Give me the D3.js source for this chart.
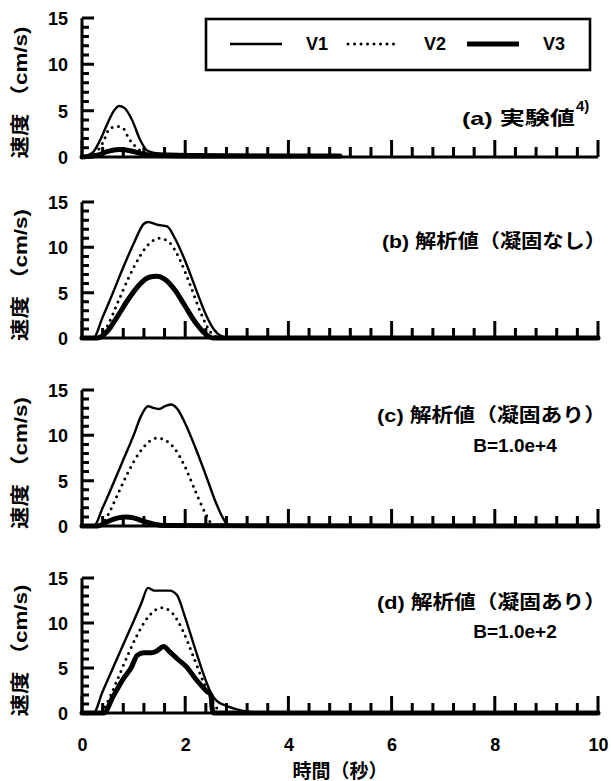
<!DOCTYPE html>
<html>
<head>
<meta charset="utf-8">
<script src="https://cdn.jsdelivr.net/npm/d3@7"></script>
<style>
  body { margin: 0; background: #fff; }
  text { font-family: "Liberation Sans", Arial, "Noto Sans CJK JP", sans-serif; font-weight: bold; fill: #000; }
</style>
</head>
<body>
<svg id="chart" width="611" height="781"></svg>
<script>
// ---- data (time in s, speed in cm/s) ----
const seriesNames = ["V1", "V2", "V3"];
const xTickLabels = [0, 2, 4, 6, 8, 10];
const yTickLabels = [0, 5, 10, 15];

// (a) experiment (only to 5 s)
const a_t1 = [0, 0.21, 0.35, 0.5, 0.62, 0.72, 0.82, 0.97, 1.13, 1.26, 1.4, 1.7, 2.2, 3.0, 4.0, 5.0];
const a_v1 = [0, 0.5, 1.8, 3.7, 5.0, 5.5, 5.3, 4.0, 1.8, 0.7, 0.45, 0.35, 0.3, 0.25, 0.2, 0.2];
const a_t2 = [0.25, 0.4, 0.54, 0.7, 0.8, 0.89, 0.97, 1.07, 1.18, 1.3];
const a_v2 = [0.3, 1.5, 3.1, 3.3, 3.1, 2.2, 1.5, 1.0, 0.4, 0.1];
const a_t3 = [0, 0.3, 0.5, 0.72, 0.95, 1.2, 1.5, 2.0, 3.0, 5.0];
const a_v3 = [0, 0.2, 0.6, 0.8, 0.65, 0.3, 0.15, 0.1, 0.1, 0.1];

// (b) analysis, no solidification
const b_t1 = [0, 0.22, 0.4, 0.6, 0.8, 1.0, 1.2, 1.28, 1.45, 1.65, 1.8, 2.0, 2.2, 2.4, 2.55, 2.7, 2.85, 10];
const b_v1 = [0, 0, 2.3, 5.0, 7.8, 10.4, 12.6, 12.8, 12.5, 12.3, 11.0, 8.5, 5.5, 2.6, 1.0, 0.2, 0, 0];
const b_t2 = [0, 0.35, 0.5, 0.7, 0.9, 1.1, 1.3, 1.5, 1.7, 1.9, 2.1, 2.3, 2.5, 2.7, 10];
const b_v2 = [0, 0, 1.4, 4.0, 6.6, 8.8, 10.4, 11.0, 10.5, 8.6, 5.8, 2.8, 0.6, 0, 0];
const b_t3 = [0, 0.3, 0.5, 0.7, 0.9, 1.1, 1.3, 1.45, 1.6, 1.8, 2.0, 2.2, 2.4, 2.55, 10];
const b_v3 = [0, 0, 0.8, 2.5, 4.3, 5.8, 6.7, 6.8, 6.5, 5.3, 3.5, 1.7, 0.4, 0, 0];

// (c) analysis, solidification B=1.0e+4
const c_t1 = [0, 0.23, 0.4, 0.6, 0.8, 1.0, 1.15, 1.28, 1.4, 1.5, 1.6, 1.72, 1.85, 2.0, 2.2, 2.4, 2.6, 2.75, 2.85, 10];
const c_v1 = [0, 0, 2.0, 4.6, 7.3, 10.0, 12.2, 13.2, 13.0, 12.9, 13.2, 13.4, 12.9, 11.3, 8.6, 5.6, 2.5, 0.7, 0, 0];
const c_t2 = [0, 0.35, 0.5, 0.7, 0.9, 1.1, 1.3, 1.45, 1.6, 1.8, 2.0, 2.2, 2.4, 2.52, 2.6, 10];
const c_v2 = [0, 0, 1.2, 3.6, 6.0, 8.0, 9.3, 9.7, 9.5, 8.5, 6.5, 3.8, 1.3, 0.2, 0, 0];
const c_t3 = [0, 0.3, 0.5, 0.7, 0.85, 1.0, 1.2, 1.4, 1.6, 10];
const c_v3 = [0, 0, 0.5, 0.9, 1.0, 0.9, 0.5, 0.2, 0.05, 0];

// (d) analysis, solidification B=1.0e+2
const d_t1 = [0, 0.22, 0.4, 0.6, 0.8, 1.0, 1.15, 1.28, 1.4, 1.55, 1.7, 1.84, 2.0, 2.2, 2.4, 2.5, 2.6, 2.8, 3.0, 3.3, 3.6, 10];
const d_v1 = [0, 0, 2.4, 5.0, 7.6, 10.2, 12.2, 13.9, 13.6, 13.6, 13.6, 13.1, 10.6, 7.0, 3.6, 2.2, 1.4, 0.8, 0.4, 0.1, 0, 0];
const d_t2 = [0, 0.35, 0.5, 0.7, 0.9, 1.1, 1.3, 1.55, 1.75, 1.95, 2.15, 2.35, 2.5, 2.62, 2.75, 10];
const d_v2 = [0, 0, 1.3, 3.9, 6.6, 9.0, 10.8, 11.7, 11.1, 9.2, 6.4, 3.5, 1.6, 0.5, 0, 0];
const d_t3 = [0, 0.42, 0.6, 0.8, 0.95, 1.07, 1.2, 1.35, 1.45, 1.58, 1.7, 1.85, 2.03, 2.2, 2.42, 2.5, 2.52, 2.55, 10];
const d_v3 = [0, 0, 1.8, 3.8, 5.0, 6.4, 6.7, 6.7, 6.9, 7.4, 6.8, 6.0, 5.1, 3.8, 2.4, 2.0, 0.6, 0, 0];

const panelLabels = ["(a) 実験値", "(b) 解析値（凝固なし）", "(c) 解析値（凝固あり）", "(d) 解析値（凝固あり）"];
const panelSubLabels = ["", "", "B=1.0e+4", "B=1.0e+2"];

const panels = [
  { ts: [a_t1, a_t2, a_t3], vs: [a_v1, a_v2, a_v3], top: 18, bottom: 157 },
  { ts: [b_t1, b_t2, b_t3], vs: [b_v1, b_v2, b_v3], top: 202, bottom: 338 },
  { ts: [c_t1, c_t2, c_t3], vs: [c_v1, c_v2, c_v3], top: 390, bottom: 526 },
  { ts: [d_t1, d_t2, d_t3], vs: [d_v1, d_v2, d_v3], top: 578, bottom: 713 }
];

const svg = d3.select("#chart");
const x = d3.scaleLinear().domain([0, 10]).range([82, 598]);

const lineStyles = [
  { width: 2.4, dash: null },
  { width: 3, dash: "0,6.5" },
  { width: 5, dash: null }
];

// where the panel labels sit: [x of right end, baseline, width]
const labelPos = [[575, 125, 113], [606, 248, 224], [606, 422, 229], [606, 609, 229]];
const subLabelY = [0, 0, 452, 638];

const yTicks = d3.range(0, 16);           // every 1, long at multiples of 5
const xTicks = d3.range(0, 26).map(i => +(i * 0.4).toFixed(1));  // every 0.4, long every 2
const isMajorX = d => Math.abs(d / 2 - Math.round(d / 2)) < 1e-6;

panels.forEach(function(p, pi) {
  const y = d3.scaleLinear().domain([0, 15]).range([p.bottom, p.top]);
  const g = svg.append("g");

  // tick labels only (d3 axis), frame drawn below
  const yAx = g.append("g").attr("transform", `translate(${x(0)},0)`)
    .call(d3.axisLeft(y).tickValues(yTickLabels).tickSize(0).tickPadding(14));
  yAx.select(".domain").remove();
  yAx.selectAll("text").attr("font-size", 18).attr("dy", "0.36em");

  const xAx = g.append("g").attr("transform", `translate(0,${p.bottom})`)
    .call(d3.axisBottom(x).tickValues(xTickLabels).tickSize(0).tickPadding(25)
      .tickFormat(pi == panels.length - 1 ? d3.format("d") : ""));
  xAx.select(".domain").remove();
  xAx.selectAll("text").attr("font-size", 18);

  // axis lines with inward tick spikes, one path each
  const yPath = d3.path();
  yPath.moveTo(x(0), y(15)); yPath.lineTo(x(0), y(0));
  yTicks.forEach(d => { yPath.moveTo(x(0), y(d)); yPath.lineTo(x(0) + (d % 5 == 0 ? 12 : 7), y(d)); });
  g.append("path").attr("d", yPath.toString())
    .attr("fill", "none").attr("stroke", "#000").attr("stroke-width", 3);

  const xPath = d3.path();
  xPath.moveTo(x(0), y(0)); xPath.lineTo(x(10), y(0));
  xTicks.forEach(d => { xPath.moveTo(x(d), y(0)); xPath.lineTo(x(d), y(0) - (isMajorX(d) ? 17 : 10)); });
  g.append("path").attr("d", xPath.toString())
    .attr("fill", "none").attr("stroke", "#000").attr("stroke-width", 3);

  // data lines
  const line = d3.line().x(d => x(d[0])).y(d => y(d[1])).curve(d3.curveMonotoneX);
  p.ts.forEach(function(ts, si) {
    const pts = ts.map((t, i) => [t, p.vs[si][i]]);
    const st = lineStyles[si];
    g.append("path").datum(pts)
      .attr("d", line)
      .attr("fill", "none")
      .attr("stroke", "#000")
      .attr("stroke-width", st.width)
      .attr("stroke-linecap", "round")
      .attr("stroke-linejoin", "round")
      .attr("stroke-dasharray", st.dash);
  });

  // y title
  const yc = (p.top + p.bottom) / 2 + 5;
  g.append("text")
    .attr("transform", `translate(27,${yc}) rotate(-90)`)
    .attr("x", -66)
    .attr("textLength", 132)
    .attr("lengthAdjust", "spacingAndGlyphs")
    .attr("font-size", 19)
    .text("速度 （cm/s)");

  // panel label
  const lp = labelPos[pi];
  g.append("text")
    .attr("x", lp[0] - lp[2])
    .attr("y", lp[1])
    .attr("textLength", lp[2])
    .attr("lengthAdjust", "spacingAndGlyphs")
    .attr("font-size", 19)
    .text(panelLabels[pi]);
  if (pi == 0) {
    g.append("text").attr("x", 576).attr("y", 111).attr("font-size", 15).text("4)");
  }
  if (panelSubLabels[pi]) {
    g.append("text")
      .attr("x", 515)
      .attr("y", subLabelY[pi])
      .attr("text-anchor", "middle")
      .attr("font-size", 19)
      .text(panelSubLabels[pi]);
  }
});

// x title
svg.append("text")
  .attr("x", 340).attr("y", 778)
  .attr("text-anchor", "middle")
  .attr("font-size", 19)
  .text("時間（秒）");

// legend
const leg = svg.append("g");
leg.append("rect").attr("x", 206).attr("y", 19).attr("width", 384).attr("height", 51)
  .attr("fill", "#fff").attr("stroke", "#000").attr("stroke-width", 2.6);
const legX = [230, 348, 467];
seriesNames.forEach(function(name, i) {
  const st = lineStyles[i];
  leg.append("line")
    .attr("x1", legX[i]).attr("x2", legX[i] + 52)
    .attr("y1", 44).attr("y2", 44)
    .attr("stroke", "#000")
    .attr("stroke-width", st.width)
    .attr("stroke-linecap", i == 1 ? "round" : "butt")
    .attr("stroke-dasharray", st.dash);
  leg.append("text")
    .attr("x", legX[i] + 76).attr("y", 50)
    .attr("font-size", 18)
    .text(name);
});
</script>
</body>
</html>
